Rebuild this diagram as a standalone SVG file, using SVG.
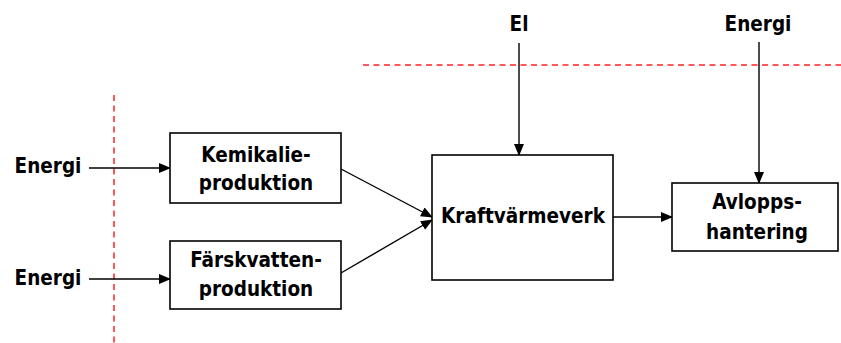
<svg xmlns="http://www.w3.org/2000/svg" width="841" height="343" viewBox="0 0 841 343">
<defs>
<marker id="ah" markerWidth="12" markerHeight="10" refX="11" refY="5" orient="auto" markerUnits="userSpaceOnUse">
<path d="M0,0 L12,5 L0,10 Z" fill="#000"/>
</marker>
</defs>
<style>
.box{fill:#fff;stroke:#000;stroke-width:1.6}
.t{font-family:"DejaVu Sans Condensed","DejaVu Sans","Liberation Sans",sans-serif;font-weight:bold;font-size:20.5px;fill:#000;text-anchor:middle}
.c{stroke:#000;stroke-width:1.4;fill:none;marker-end:url(#ah)}
.d{stroke:#f22;stroke-width:1.5;stroke-dasharray:6 4.5;fill:none}
</style>
<rect width="841" height="343" fill="#fff"/>
<g id="boundaries">
<line class="d" x1="114" y1="95" x2="114" y2="343"/>
<line class="d" x1="363" y1="65" x2="841" y2="65"/>
</g>
<g id="connectors">
<line class="c" x1="89" y1="168" x2="170" y2="168"/>
<line class="c" x1="89" y1="279" x2="170" y2="279"/>
<line class="c" x1="341" y1="169" x2="432" y2="217"/>
<line class="c" x1="341" y1="273" x2="432" y2="220"/>
<line class="c" x1="519" y1="43" x2="519" y2="155"/>
<line class="c" x1="759" y1="42" x2="759" y2="183"/>
<line class="c" x1="613" y1="217" x2="672" y2="217"/>
</g>
<g id="energi1"><text class="t" x="48" y="173">Energi</text></g>
<g id="energi2"><text class="t" x="48" y="285">Energi</text></g>
<g id="el"><text class="t" x="519" y="31">El</text></g>
<g id="energi3"><text class="t" x="758" y="31">Energi</text></g>
<g id="kemikalie">
<rect class="box" x="170" y="133" width="171" height="70"/>
<text class="t" x="256" y="162">Kemikalie-</text>
<text class="t" x="256" y="190">produktion</text>
</g>
<g id="farskvatten">
<rect class="box" x="170" y="241" width="171" height="68"/>
<text class="t" x="256" y="267">Färskvatten-</text>
<text class="t" x="256" y="296">produktion</text>
</g>
<g id="kraftvarmeverk">
<rect class="box" x="432" y="155" width="181" height="125"/>
<text class="t" x="523" y="223">Kraftvärmeverk</text>
</g>
<g id="avlopp">
<rect class="box" x="672" y="183" width="166" height="68"/>
<text class="t" x="757" y="209">Avlopps-</text>
<text class="t" x="757" y="239">hantering</text>
</g>
</svg>
